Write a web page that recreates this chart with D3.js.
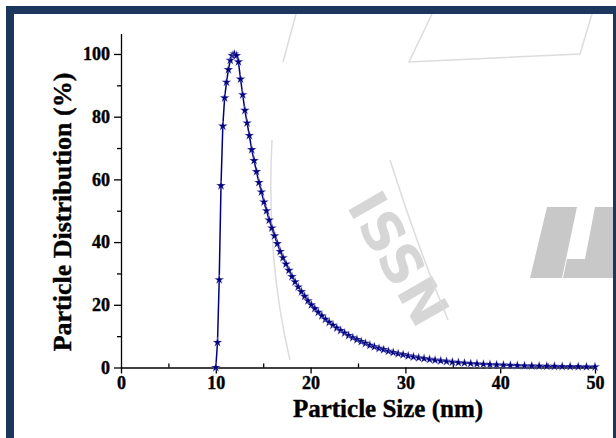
<!DOCTYPE html>
<html>
<head>
<meta charset="utf-8">
<script src="https://cdn.jsdelivr.net/npm/d3@7"></script>
<style>
    body { margin: 0; background: #fff; }
    svg { display: block; }
    .tick text { font-family: "Liberation Serif", "Times New Roman", serif; font-weight: bold; }
</style>
</head>
<body>
<div id="chart"></div>
<script>
// Particle size (nm) of each measured point
const sizes = [
    10.00, 10.18, 10.36, 10.55, 10.74, 10.93, 11.13, 11.33, 11.53, 11.74,
    11.95, 12.17, 12.39, 12.61, 12.84, 13.07, 13.30, 13.54, 13.79, 14.04,
    14.29, 14.55, 14.81, 15.08, 15.35, 15.63, 15.91, 16.20, 16.49, 16.79,
    17.09, 17.40, 17.71, 18.03, 18.36, 18.69, 19.03, 19.37, 19.72, 20.08,
    20.44, 20.81, 21.19, 21.57, 21.96, 22.36, 22.76, 23.17, 23.59, 24.01,
    24.45, 24.89, 25.34, 25.79, 26.26, 26.73, 27.22, 27.71, 28.21, 28.72,
    29.24, 29.76, 30.30, 30.85, 31.40, 31.97, 32.55, 33.13, 33.73, 34.34,
    34.96, 35.59, 36.23, 36.89, 37.55, 38.23, 38.92, 39.62, 40.34, 41.07,
    41.81, 42.56, 43.33, 44.11, 44.91, 45.72, 46.54, 47.38, 48.23, 49.10,
    50.00
];

// Particle distribution (%)
const distribution = [
    0, 8, 28, 58, 77, 86, 91, 95, 98, 99.5,
    100, 99.5, 97.5, 92, 87, 82, 78, 74, 69.5, 66,
    62.5, 59, 56, 52.8, 50, 47, 44.5, 42, 39.5, 37,
    35, 33, 31, 29, 27.3, 25.7, 24.2, 22.7, 21.3, 20,
    18.8, 17.6, 16.5, 15.4, 14.4, 13.5, 12.6, 11.8, 11.0, 10.2,
    9.5, 8.9, 8.3, 7.7, 7.1, 6.6, 6.1, 5.7, 5.2, 4.8,
    4.4, 4.1, 3.7, 3.4, 3.1, 2.85, 2.6, 2.35, 2.15, 1.95,
    1.75, 1.6, 1.45, 1.3, 1.18, 1.06, 0.96, 0.87, 0.78, 0.70,
    0.63, 0.57, 0.51, 0.46, 0.41, 0.37, 0.33, 0.30, 0.27, 0.24,
    0.21
];

const xMajorTicks = [0, 10, 20, 30, 40, 50];
const xMinorTicks = [5, 15, 25, 35, 45];
const yMajorTicks = [0, 20, 40, 60, 80, 100];
const yMinorTicks = [10, 30, 50, 70, 90];

const xTitle = "Particle Size (nm)";
const yTitle = "Particle Distribution (%)";

const width = 616, height = 438;
const navy = "#000080";
const serif = '"Liberation Serif", "Times New Roman", serif';

const svg = d3.select("#chart")
    .append("svg")
    .attr("width", width)
    .attr("height", height);

svg.append("rect")
    .attr("width", width)
    .attr("height", height)
    .attr("fill", "#fff");

const x = d3.scaleLinear().domain([0, 50]).range([121, 595]);
const y = d3.scaleLinear().domain([0, 106.5]).range([367.5, 33.6]);

/**
 * Draws the faint journal watermark behind the plot.
 */
function drawWatermark() {
    const wm = svg.append("g").attr("fill", "#c8c8c8");

    wm.append("text")
        .attr("transform", "translate(346,206) rotate(60)")
        .attr("font-family", "DejaVu Sans, sans-serif")
        .attr("font-weight", "bold")
        .attr("font-size", 54)
        .attr("letter-spacing", 1)
        .attr("fill-opacity", 0.75)
        .text("ISSN");

    // the big slanted "IJ" letters on the right
    wm.append("path")
        .attr("d", "M547,207 L577,207 L562,278 L530,278 Z");
    wm.append("path")
        .attr("d", "M595,207 L616,207 L616,278 L563,278 L567,259 L585,259 Z");

    // thin outline strokes of the logo
    const outline = svg.append("g")
        .attr("fill", "none")
        .attr("stroke", "#dcdcdc")
        .attr("stroke-width", 1.5);
    outline.append("path").attr("d", "M296,14 L283,62");
    outline.append("path").attr("d", "M432,14 L409,62 L580,54 L592,14");
    outline.append("path").attr("d", "M272,140 Q266,260 290,360");
    outline.append("path").attr("d", "M390,160 Q415,240 448,320");
}

/**
 * Draws the dark frame round the picture.
 */
function drawFrame() {
    svg.append("rect")
        .attr("x", 10)
        .attr("y", 10)
        .attr("width", 607)
        .attr("height", 520)
        .attr("fill", "none")
        .attr("stroke", "#1c375e")
        .attr("stroke-width", 8);
}

/**
 * Draws both axes with their major and minor ticks.
 */
function drawAxes() {
    const xAxis = svg.append("g")
        .attr("transform", `translate(0,${y(0)})`)
        .call(d3.axisBottom(x).tickValues(xMajorTicks).tickSize(6).tickPadding(3).tickSizeOuter(0));
    xAxis.selectAll(".tick text")
        .attr("font-size", 18)
        .attr("fill", "#000")
        .attr("stroke", "#000")
        .attr("stroke-width", 0.4);

    svg.append("g")
        .attr("transform", `translate(0,${y(0)})`)
        .call(d3.axisTop(x).tickValues(xMinorTicks).tickSize(4).tickFormat("").tickSizeOuter(0))
        .select(".domain").remove();

    const yAxis = svg.append("g")
        .attr("transform", `translate(${x(0)},0)`)
        .call(d3.axisLeft(y).tickValues(yMajorTicks).tickSize(7).tickPadding(4).tickSizeOuter(0));
    yAxis.selectAll(".tick text")
        .attr("font-size", 18)
        .attr("fill", "#000")
        .attr("stroke", "#000")
        .attr("stroke-width", 0.4);

    svg.append("g")
        .attr("transform", `translate(${x(0)},0)`)
        .call(d3.axisLeft(y).tickValues(yMinorTicks).tickSize(4).tickFormat("").tickSizeOuter(0))
        .select(".domain").remove();

    svg.selectAll(".domain, .tick line").attr("stroke", "#000").attr("stroke-width", 1.3);

    svg.append("text")
        .attr("x", 388)
        .attr("y", 417)
        .attr("text-anchor", "middle")
        .attr("font-family", serif)
        .attr("font-weight", "bold")
        .attr("font-size", 25)
        .attr("stroke", "#000")
        .attr("stroke-width", 0.4)
        .text(xTitle);

    svg.append("text")
        .attr("transform", "translate(71,212) rotate(-90)")
        .attr("text-anchor", "middle")
        .attr("font-family", serif)
        .attr("font-weight", "bold")
        .attr("font-size", 26)
        .attr("stroke", "#000")
        .attr("stroke-width", 0.4)
        .text(yTitle);
}

/**
 * Draws the distribution line and its star markers.
 */
function drawSeries() {
    const points = sizes.map((s, i) => ({ size: s, value: distribution[i] }));

    const line = d3.line()
        .x(d => x(d.size))
        .y(d => y(d.value));

    svg.append("path")
        .datum(points)
        .attr("d", line)
        .attr("fill", "none")
        .attr("stroke", navy)
        .attr("stroke-width", 1.5);

    svg.selectAll(".marker")
        .data(points)
        .enter().append("path")
        .attr("class", "marker")
        .attr("transform", d => `translate(${x(d.size)},${y(d.value)})`)
        .attr("d", d3.symbol(d3.symbolStar, 28))
        .attr("fill", navy)
        .attr("stroke", "#d8d8f0")
        .attr("stroke-width", 0.3);
}

drawWatermark();
drawFrame();
drawAxes();
drawSeries();
</script>
</body>
</html>
